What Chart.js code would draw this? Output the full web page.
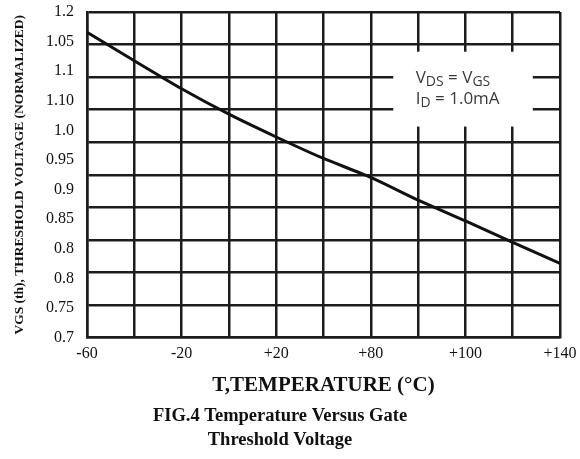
<!DOCTYPE html>
<html><head><meta charset="utf-8">
<script src="https://cdn.jsdelivr.net/npm/chart.js@4"></script>
<style>html,body{margin:0;padding:0;background:#fff}#wrap{width:580px;height:459px}</style>
</head><body><div id="wrap"><canvas id="c"></canvas></div>
<script>
const temperatures = [-60, -40, -20, 0, 20, 40, 60, 80, 100, 120, 140];
const thresholdVoltage = [1.169, 1.125, 1.082, 1.043, 1.008, 0.975, 0.946, 0.911, 0.879, 0.846, 0.814];
const xTickLabels = ['-60', '-20', '+20', '+80', '+100', '+140'];
const yTickLabels = ['1.2', '1.05', '1.1', '1.10', '1.0', '0.95', '0.9', '0.85', '0.8', '0.8', '0.75', '0.7'];

const SERIF = "'Liberation Serif', 'Times New Roman', serif";
const GRID = '#1c1c1c';

const annot = {
  id: 'annot',
  afterDraw(chart) {
    const {ctx, scales: {x, y}} = chart;
    const x0 = x.getPixelForValue(69.5), x1 = x.getPixelForValue(128.5);
    const y0 = y.getPixelForValue(1.139), y1 = y.getPixelForValue(1.024);
    ctx.save();
    ctx.fillStyle = '#fff';
    ctx.fillRect(x0, y0, x1 - x0, y1 - y0);
    ctx.fillStyle = '#3a3a3a';
    ctx.textBaseline = 'alphabetic';
    ctx.textAlign = 'left';
    const draw = (parts, px, py) => {
      let cx = px;
      for (const [t, sub] of parts) {
        ctx.font = (sub ? '14px' : '17px') + " 'Open Sans', 'Noto Sans', sans-serif";
        ctx.fillText(t, cx, py + (sub ? 3 : 0));
        cx += ctx.measureText(t).width;
      }
    };
    const tx = x.getPixelForValue(79);
    draw([['V', false], ['DS', true], [' = V', false], ['GS', true]], tx, y.getPixelForValue(1.0905));
    draw([['I', false], ['D', true], [' = 1.0mA', false]], tx, y.getPixelForValue(1.0585));
    ctx.restore();
  }
};

new Chart(document.getElementById('c'), {
  type: 'line',
  data: {
    datasets: [{
      data: temperatures.map((t, i) => ({x: t, y: thresholdVoltage[i]})),
      borderColor: '#111', borderWidth: 3, pointRadius: 0, tension: 0.2, fill: false
    }]
  },
  options: {
    responsive: true, maintainAspectRatio: false, animation: false,
    layout: {padding: {left: 0, right: 20, top: 12, bottom: 7}},
    plugins: {
      legend: {display: false}, tooltip: {enabled: false},
      title: {
        display: true, position: 'bottom',
        text: ['FIG.4 Temperature Versus Gate', 'Threshold Voltage'],
        font: {family: SERIF, size: 18.5, weight: 'bold', lineHeight: 1.3},
        color: '#111', padding: {top: 6, bottom: 0}
      }
    },
    scales: {
      x: {
        type: 'linear', min: -60, max: 140,
        ticks: {
          stepSize: 20, autoSkip: false, maxRotation: 0, padding: 7, color: '#111',
          font: {family: SERIF, size: 16},
          callback: (v, i) => (i % 2 === 0 ? xTickLabels[i / 2] : '')
        },
        grid: {color: GRID, lineWidth: 2.5, drawTicks: false},
        border: {color: GRID, width: 2.5},
        title: {
          display: true, text: 'T,TEMPERATURE (°C)', color: '#111',
          font: {family: SERIF, size: 21, weight: 'bold'}, padding: {top: 2, bottom: 0}
        },
        afterFit: (s) => { s.paddingLeft = 0; s.paddingRight = 0; }
      },
      y: {
        type: 'linear', position: 'left', min: 0.7, max: 1.2, weight: 0,
        ticks: {display: false, stepSize: 0.05},
        grid: {color: GRID, lineWidth: 2.5, drawTicks: false},
        border: {color: GRID, width: 2.5}
      },
      yL: {
        type: 'linear', position: 'left', min: 0, max: 11, reverse: true, weight: 1,
        ticks: {
          stepSize: 1, autoSkip: false, padding: 13, color: '#111',
          font: {family: SERIF, size: 16},
          callback: (v) => yTickLabels[Math.round(v)]
        },
        grid: {display: false, drawTicks: false},
        border: {display: false},
        title: {
          display: true, text: 'VGS (th), THRESHOLD VOLTAGE (NORMALIZED)', color: '#111',
          font: {family: SERIF, size: 13.5, weight: 'bold'}, padding: {top: 11, bottom: 0}
        },
        afterFit: (s) => { s.width = 87; s.paddingTop = 0; s.paddingBottom = 0; }
      }
    }
  },
  plugins: [annot]
});
</script>
</body></html>
